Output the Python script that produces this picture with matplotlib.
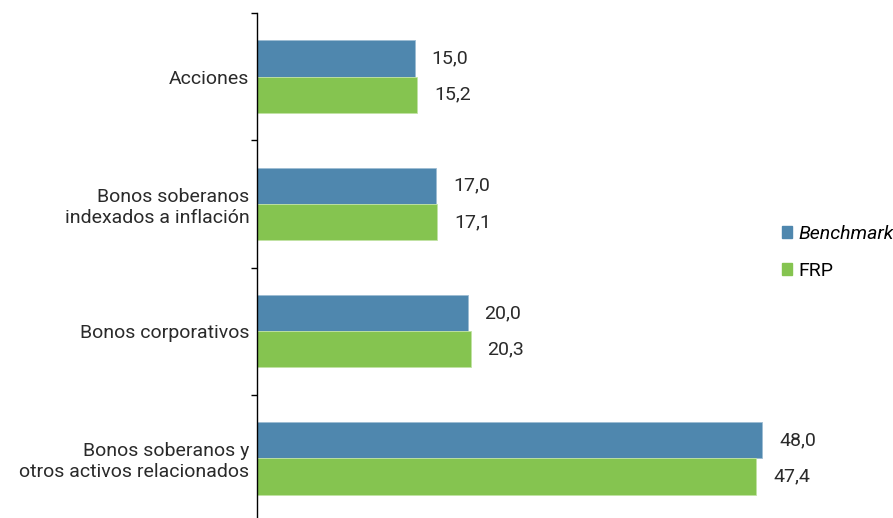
import matplotlib.pyplot as plt
import numpy as np
from matplotlib.patches import Patch

plt.rcParams['font.family'] = ['Roboto', 'DejaVu Sans']

# data
categorias = ['Acciones', 'Bonos soberanos\nindexados a inflación', 'Bonos corporativos',
              'Bonos soberanos y\notros activos relacionados']
benchmark = [15.0, 17.0, 20.0, 48.0]
frp = [15.2, 17.1, 20.3, 47.4]

azul = '#4F87AE'
verde = '#85C450'
fs = 14
texto = '#2a2a2a'

fig = plt.figure(figsize=(8.93, 5.18), dpi=100)
ax = fig.add_axes([257 / 893, -4 / 518, 1 - 257 / 893, 509 / 518])

y = np.arange(len(categorias))
h = 0.285
ax.barh(y - h / 2, benchmark, height=h, color=azul, edgecolor='#9DBDD3', linewidth=0.6)
ax.barh(y + h / 2, frp, height=h, color=verde, edgecolor='#C2E3A4', linewidth=0.6)

for i in range(len(categorias)):
    ax.text(benchmark[i] + 1.6, y[i] - h / 2, f'{benchmark[i]:.1f}'.replace('.', ','),
            va='center', ha='left', fontsize=fs, color=texto)
    ax.text(frp[i] + 1.6, y[i] + h / 2, f'{frp[i]:.1f}'.replace('.', ','),
            va='center', ha='left', fontsize=fs, color=texto)

ax.set_ylim(3.5, -0.5)
ax.set_xlim(0, 60.4)
ax.set_yticks(y)
ax.set_yticklabels(categorias, fontsize=fs, color=texto, ha='right', multialignment='right')
ax.set_yticks(np.arange(-0.5, 4.0, 1.0), minor=True)
ax.tick_params(axis='y', which='major', length=0, pad=5.5)
ax.tick_params(axis='y', which='minor', length=4, direction='out', width=1)
ax.set_xticks([])
for s in ['top', 'right', 'bottom']:
    ax.spines[s].set_visible(False)
ax.spines['left'].set_linewidth(1)

handles = [Patch(color=azul), Patch(color=verde)]
leg = fig.legend(handles, ['Benchmark', 'FRP'], loc='upper left', bbox_to_anchor=(774 / 893, 1 - 217 / 518),
                 frameon=False, fontsize=fs, handlelength=0.55, handleheight=0.55,
                 handletextpad=0.3, labelspacing=1.0, borderaxespad=0)
leg.get_texts()[0].set_fontstyle('italic')

fig.savefig('out.png', dpi=100)
